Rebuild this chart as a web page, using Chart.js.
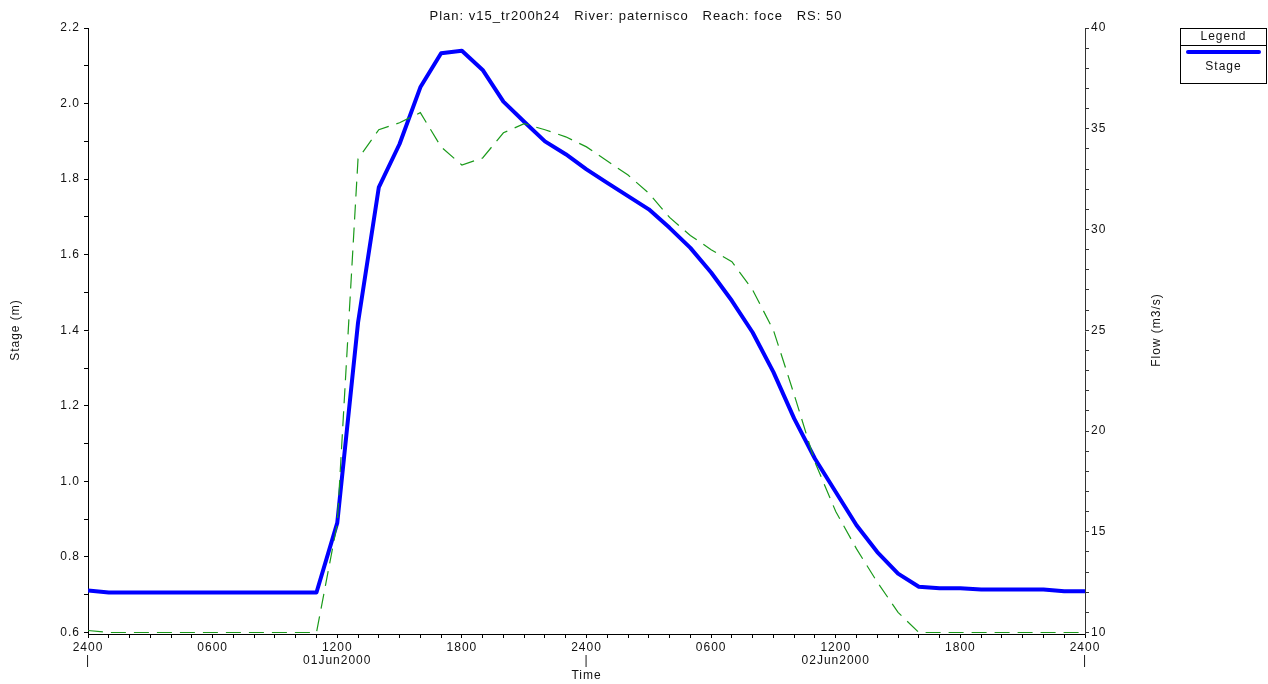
<!DOCTYPE html>
<html>
<head>
<meta charset="utf-8">
<script src="https://cdn.jsdelivr.net/npm/chart.js@4.4.0/dist/chart.umd.min.js"></script>
<style>
  html, body { margin: 0; padding: 0; background: #fff; }
  #wrap { width: 1268px; height: 684px; position: relative; }
</style>
</head>
<body>
<div id="wrap"><canvas id="c" width="1268" height="684"></canvas></div>
<script>
// Hydrograph at RS 50: hours since 01Jun2000 0000
const hours = [0,1,2,3,4,5,6,7,8,9,10,11,12,13,14,15,16,17,18,19,20,21,22,23,24,
               25,26,27,28,29,30,31,32,33,34,35,36,37,38,39,40,41,42,43,44,45,46,47,48];

// Water surface stage (m)
const stage = [0.711,0.706,0.706,0.706,0.706,0.706,0.706,0.706,0.706,0.706,0.706,0.706,
               0.890,1.420,1.778,1.893,2.043,2.133,2.140,2.089,2.005,1.952,1.900,1.866,1.826,
               1.790,1.755,1.720,1.671,1.618,1.553,1.478,1.394,1.289,1.166,1.060,0.972,0.884,
               0.813,0.756,0.721,0.717,0.717,0.714,0.714,0.714,0.714,0.709,0.709];

// Discharge (m3/s)
const flow = [10.1,10,10,10,10,10,10,10,10,10,10,10,
              15.4,33.5,34.95,35.3,35.8,34.1,33.2,33.55,34.8,35.25,34.95,34.6,34.1,
              33.4,32.7,31.8,30.6,29.7,29.0,28.4,27.0,25.0,21.8,18.45,16.0,14.15,
              12.5,11.0,10.0,10,10,10,10,10,10,10,10];

// Axis ticks and labels
const stageLabels = ['0.6','0.8','1.0','1.2','1.4','1.6','1.8','2.0','2.2'];
const flowLabels = ['10','15','20','25','30','35','40'];
const timeLabelHours = [0,6,12,18,24,30,36,42,48];
const timeLabels = [['2400','|'],'0600',['1200','01Jun2000'],'1800',['2400','|'],
                    '0600',['1200','02Jun2000'],'1800',['2400','|']];

const titleText = 'Plan: v15_tr200h24   River: paternisco   Reach: foce   RS: 50';
const FONT = '"Liberation Sans", Arial, sans-serif';
const INK = '#111';

const stageMajor = stageLabels.map(Number);
const flowMajor = flowLabels.map(Number);

// the lowest tick sits a hair above the time axis line so the base flow stays visible
const STAGE_MIN = 0.6, STAGE_MAX = 2.2, FLOW_MIN = 10, FLOW_MAX = 40;
const LIFT_PX = 1.5, PLOT_H = 606;
const stageLo = STAGE_MIN - LIFT_PX * (STAGE_MAX - STAGE_MIN) / PLOT_H;
const flowLo = FLOW_MIN - LIFT_PX * (FLOW_MAX - FLOW_MIN) / PLOT_H;

function stepTicks(min, max, step) {
  const out = [];
  const n = Math.round((max - min) / step);
  for (let i = 0; i <= n; i++) out.push({ value: +(min + i * step).toFixed(4) });
  return out;
}

// wide, lightly tracked lettering for all chart text
function setTracking(chart) { chart.ctx.letterSpacing = '1px'; }

const decor = {
  id: 'decor',
  beforeLayout: setTracking,
  beforeDraw: setTracking,
  afterDraw(chart) {
    const ctx = chart.ctx;
    const a = chart.chartArea;
    ctx.save();
    ctx.letterSpacing = '1px';
    ctx.fillStyle = INK;
    ctx.textAlign = 'center';
    ctx.textBaseline = 'middle';
    ctx.font = '13px ' + FONT;
    ctx.fillText(titleText, 636, 16);
    ctx.font = '12px ' + FONT;
    ctx.fillText('Time', (a.left + a.right) / 2, 676);

    ctx.save();
    ctx.translate(16, 330);
    ctx.rotate(-Math.PI / 2);
    ctx.fillText('Stage (m)', 0, 0);
    ctx.restore();
    ctx.save();
    ctx.translate(1157, 330);
    ctx.rotate(-Math.PI / 2);
    ctx.fillText('Flow (m3/s)', 0, 0);
    ctx.restore();

    // legend box
    const L = 1180.5, R = 1266.5, T = 28.5, B = 83.5;
    ctx.strokeStyle = '#000';
    ctx.lineWidth = 1;
    ctx.strokeRect(L, T, R - L, B - T);
    ctx.beginPath();
    ctx.moveTo(L, 45.5);
    ctx.lineTo(R, 45.5);
    ctx.stroke();
    ctx.fillText('Legend', (L + R) / 2, 37);
    ctx.beginPath();
    ctx.strokeStyle = '#0000ff';
    ctx.lineWidth = 4;
    ctx.lineCap = 'round';
    ctx.moveTo(1188, 52);
    ctx.lineTo(1259, 52);
    ctx.stroke();
    ctx.fillText('Stage', (L + R) / 2, 67);
    ctx.restore();
  }
};

new Chart(document.getElementById('c'), {
  type: 'line',
  data: {
    datasets: [
      {
        label: 'Flow',
        data: hours.map((h, i) => ({ x: h, y: flow[i] })),
        yAxisID: 'yFlow',
        borderColor: '#1a9a1a',
        borderWidth: 1.2,
        borderDash: [15, 8],
        pointRadius: 0,
        tension: 0,
        fill: false,
        clip: 4
      },
      {
        label: 'Stage',
        data: hours.map((h, i) => ({ x: h, y: stage[i] })),
        yAxisID: 'yStage',
        borderColor: '#0000ff',
        borderWidth: 4,
        pointRadius: 0,
        tension: 0,
        fill: false,
        borderJoinStyle: 'round'
      }
    ]
  },
  options: {
    responsive: false,
    animation: false,
    events: [],
    layout: { padding: { top: 28, left: 0, right: 0, bottom: 0 } },
    plugins: { legend: { display: false }, title: { display: false }, tooltip: { enabled: false } },
    scales: {
      x: {
        type: 'linear',
        min: 0, max: 48,
        afterBuildTicks: s => { s.ticks = stepTicks(0, 48, 1); },
        afterFit: s => { s.height = 50; },
        grid: { drawOnChartArea: false, drawTicks: true, tickLength: 4, color: '#000', lineWidth: 1 },
        border: { display: true, color: '#000', width: 1 },
        ticks: {
          autoSkip: false, maxRotation: 0, minRotation: 0, padding: 3,
          color: INK, font: { family: FONT, size: 12, lineHeight: 1.1 },
          callback: v => {
            const k = timeLabelHours.indexOf(v);
            return k >= 0 ? timeLabels[k] : '';
          }
        }
      },
      yStage: {
        type: 'linear', position: 'left',
        min: stageLo, max: STAGE_MAX,
        afterBuildTicks: s => { s.ticks = stepTicks(STAGE_MIN, STAGE_MAX, 0.1); },
        afterFit: s => { s.width = 88; },
        grid: { drawOnChartArea: false, drawTicks: true, tickLength: 4, color: '#000' },
        border: { display: true, color: '#000', width: 1 },
        ticks: {
          padding: 4, color: INK, font: { family: FONT, size: 12 },
          callback: v => {
            const k = stageMajor.findIndex(m => Math.abs(m - v) < 1e-6);
            return k >= 0 ? stageLabels[k] : '';
          }
        }
      },
      yFlow: {
        type: 'linear', position: 'right',
        min: flowLo, max: FLOW_MAX,
        afterBuildTicks: s => { s.ticks = stepTicks(FLOW_MIN, FLOW_MAX, 1); },
        afterFit: s => { s.width = 183; },
        grid: { drawOnChartArea: false, drawTicks: true, tickLength: 4, color: '#333' },
        border: { display: true, color: '#333', width: 1 },
        ticks: {
          padding: 2, color: INK, font: { family: FONT, size: 12 },
          callback: v => {
            const k = flowMajor.findIndex(m => Math.abs(m - v) < 1e-6);
            return k >= 0 ? flowLabels[k] : '';
          }
        }
      }
    }
  },
  plugins: [decor]
});
</script>
</body>
</html>
